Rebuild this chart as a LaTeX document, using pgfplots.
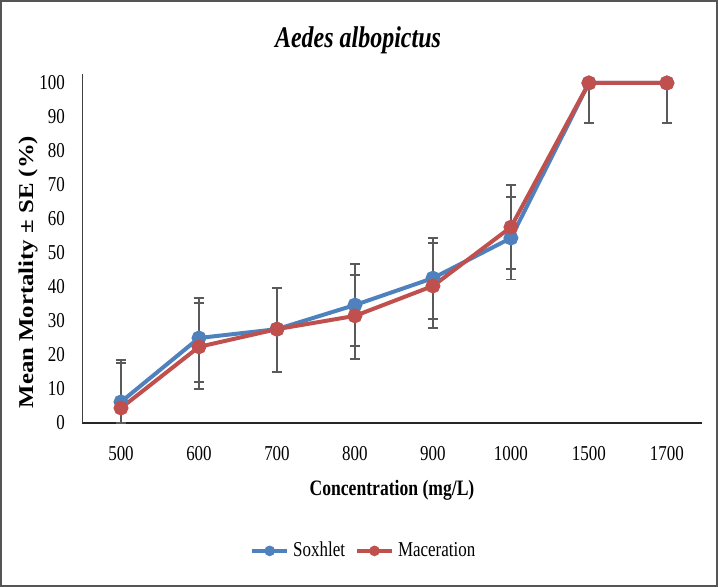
\documentclass[border=0pt]{standalone}
\usepackage{fontspec}
\setmainfont{Liberation Serif}[FakeStretch=0.8]
\newfontfamily\plainserif{Liberation Serif}
\usepackage{pgfplots}
\pgfplotsset{compat=1.18}
\definecolor{sox}{HTML}{4F81BD}
\definecolor{mac}{HTML}{C0504D}
\definecolor{errc}{HTML}{5A5A5A}
\definecolor{framec}{HTML}{555555}
\begin{document}
\begin{tikzpicture}
\path[use as bounding box] (0,0) rectangle (359pt,293.5pt);
\draw[framec, line width=1.2pt] (0.6pt,0.6pt) rectangle (358.4pt,292.9pt);
\node[anchor=base, font=\fontsize{15}{18}\selectfont\bfseries\itshape] at (179pt,269.5pt) {Aedes albopictus};
\begin{axis}[
  at={(41pt,82pt)}, anchor=south west,
  scale only axis, width=310pt, height=174.25pt,
  xmin=-0.5, xmax=7.45, ymin=0, ymax=102.5,
  axis x line*=bottom, axis y line*=left,
  x axis line style={black!85, line width=0.8pt},
  y axis line style={black!75, line width=0.5pt},
  major tick length=0pt,
  xtick={0,1,2,3,4,5,6,7},
  xticklabels={500,600,700,800,900,1000,1500,1700},
  ytick={0,10,...,100},
  /pgf/number format/assume math mode=true,
  ticklabel style={font=\fontsize{10.6}{12}\selectfont},
  xticklabel style={yshift=-8pt},
  yticklabel style={xshift=-5pt},
  xlabel={Concentration (mg/L)},
  xlabel style={at={(axis description cs:0.5,0)}, anchor=north, inner sep=0pt, yshift=-28.5pt, font=\fontsize{11}{13}\selectfont\bfseries},
  ylabel={\scalebox{1}[0.85]{Mean Mortality ± SE (\%)}},
  ylabel style={at={(axis description cs:-0.071,0.433)}, anchor=south, inner sep=0pt, font=\plainserif\fontsize{12.4}{14}\selectfont\bfseries},
  clip=false,
  legend columns=2,
  legend style={at={(axis description cs:0.456,-0.367)}, anchor=center, draw=none, fill=none,
    font=\fontsize{10.6}{12}\selectfont, inner sep=0pt,
    /tikz/every even column/.append style={column sep=3pt}},
  legend image code/.code={\draw[mark repeat=2,mark phase=2,#1, mark size=1.6pt] plot coordinates {(0pt,0pt) (8.75pt,0pt) (17.5pt,0pt)};},
  myerr/.style={
    /pgfplots/error bars/y dir=both, /pgfplots/error bars/y explicit,
    /pgfplots/error bars/error bar style={errc, line width=0.7pt},
    /pgfplots/error bars/error mark options={errc, rotate=90, mark size=2.5pt, line width=0.9pt}},
]
\addplot[sox, line width=2pt, mark=*, mark size=2.7pt, mark options={fill=sox, draw=sox}, myerr] coordinates {
  (0,6.2) += (0,12.3) -= (0,6.2)
  (1,25.0) += (0,11.8) -= (0,12.9)
  (2,27.6) += (0,12.1) -= (0,12.6)
  (3,34.7) += (0,12.1) -= (0,12.1)
  (4,42.6) += (0,11.9) -= (0,11.9)
  (5,54.4) += (0,12.1) -= (0,12.2)
  (6,100) += (0,0) -= (0,11.8)
  (7,100) += (0,0) -= (0,11.8)
};
\addlegendentry{Soxhlet}
\addplot[mac, line width=2pt, mark=*, mark size=2.7pt, mark options={fill=mac, draw=mac}, myerr] coordinates {
  (0,4.4) += (0,13.2) -= (0,4.4)
  (1,22.4) += (0,12.9) -= (0,12.4)
  (2,27.6) += (0,12.1) -= (0,12.6)
  (3,31.5) += (0,12.1) -= (0,12.7)
  (4,40.3) += (0,12.6) -= (0,12.3)
  (5,57.6) += (0,12.4) -= (0,12.2)
  (6,100) += (0,0) -= (0,11.8)
  (7,100) += (0,0) -= (0,11.8)
};
\addlegendentry{Maceration}
\end{axis}
\end{tikzpicture}
\end{document}
